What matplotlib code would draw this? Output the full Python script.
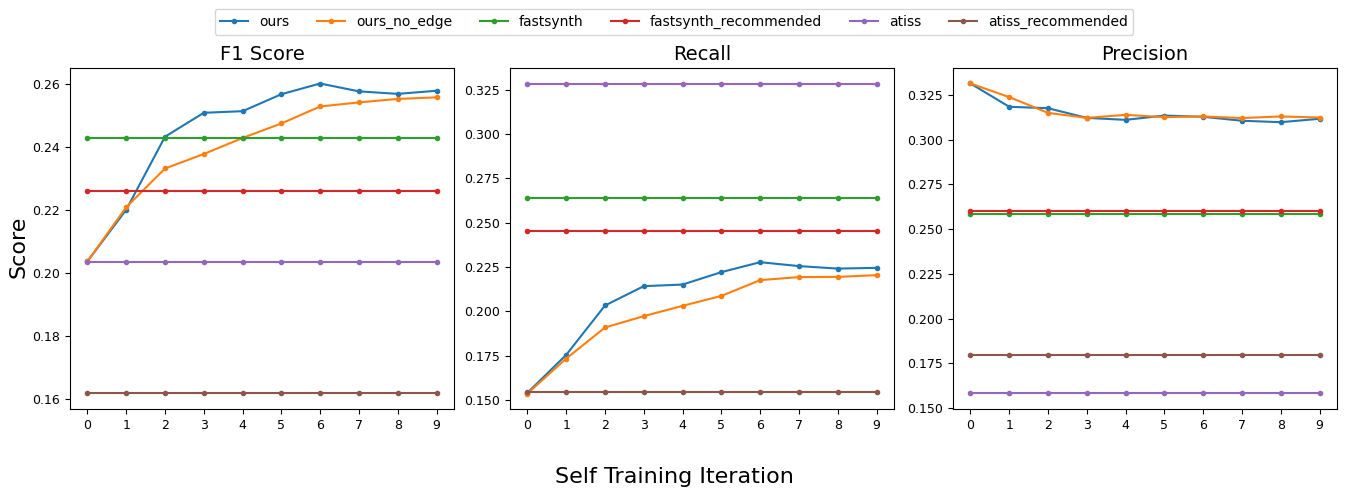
import matplotlib
matplotlib.use("Agg")
import matplotlib.pyplot as plt

iterations = list(range(10))
series_names = ["ours", "ours_no_edge", "fastsynth", "fastsynth_recommended", "atiss", "atiss_recommended"]

f1_ours = [0.2038, 0.2202, 0.2434, 0.2510, 0.2515, 0.2569, 0.2603, 0.2578, 0.2570, 0.2580]
f1_ours_no_edge = [0.2038, 0.2210, 0.2333, 0.2379, 0.2430, 0.2476, 0.2530, 0.2543, 0.2554, 0.2559]
f1_fastsynth = [0.2431] * 10
f1_fastsynth_rec = [0.2263] * 10
f1_atiss = [0.2037] * 10
f1_atiss_rec = [0.1618] * 10

rec_ours = [0.1541, 0.1755, 0.2033, 0.2142, 0.2151, 0.2221, 0.2277, 0.2255, 0.2241, 0.2245]
rec_ours_no_edge = [0.1537, 0.1734, 0.1909, 0.1973, 0.2031, 0.2087, 0.2176, 0.2193, 0.2194, 0.2204]
rec_fastsynth = [0.2641] * 10
rec_fastsynth_rec = [0.2452] * 10
rec_atiss = [0.3284] * 10
rec_atiss_rec = [0.1545] * 10

prec_ours = [0.3313, 0.3183, 0.3175, 0.3121, 0.3110, 0.3134, 0.3127, 0.3105, 0.3097, 0.3116]
prec_ours_no_edge = [0.3313, 0.3237, 0.3149, 0.3121, 0.3138, 0.3125, 0.3129, 0.3120, 0.3129, 0.3123]
prec_fastsynth = [0.2586] * 10
prec_fastsynth_rec = [0.2601] * 10
prec_atiss = [0.1582] * 10
prec_atiss_rec = [0.1796] * 10

panels = [
    ("F1 Score", [f1_ours, f1_ours_no_edge, f1_fastsynth, f1_fastsynth_rec, f1_atiss, f1_atiss_rec]),
    ("Recall", [rec_ours, rec_ours_no_edge, rec_fastsynth, rec_fastsynth_rec, rec_atiss, rec_atiss_rec]),
    ("Precision", [prec_ours, prec_ours_no_edge, prec_fastsynth, prec_fastsynth_rec, prec_atiss, prec_atiss_rec]),
]

fig = plt.figure(figsize=(13.48, 4.94), dpi=100)
lefts = [70, 510, 953]
width = 384
bottom_px, top_px = 409, 68
W, H = 1348, 494
axes = []
for l in lefts:
    ax = fig.add_axes([l / W, 1 - bottom_px / H, width / W, (bottom_px - top_px) / H])
    axes.append(ax)

handles = []
for ax, (title, data) in zip(axes, panels):
    hs = []
    for name, vals in zip(series_names, data):
        h, = ax.plot(iterations, vals, marker='.', markersize=6, linewidth=1.5, label=name)
        hs.append(h)
    handles = hs
    ax.set_title(title, fontsize=14)
    ax.set_xticks(iterations)
    ax.tick_params(labelsize=9)

fig.legend(handles, series_names, loc='upper center', ncol=6, bbox_to_anchor=(0.5, 0.995), fontsize=10,
           columnspacing=2.0)
fig.text(0.5, 0.035, "Self Training Iteration", ha='center', va='center', fontsize=16)
fig.text(0.014, 0.5, "Score", ha='center', va='center', rotation=90, fontsize=16)

fig.savefig("out.png", dpi=100)
